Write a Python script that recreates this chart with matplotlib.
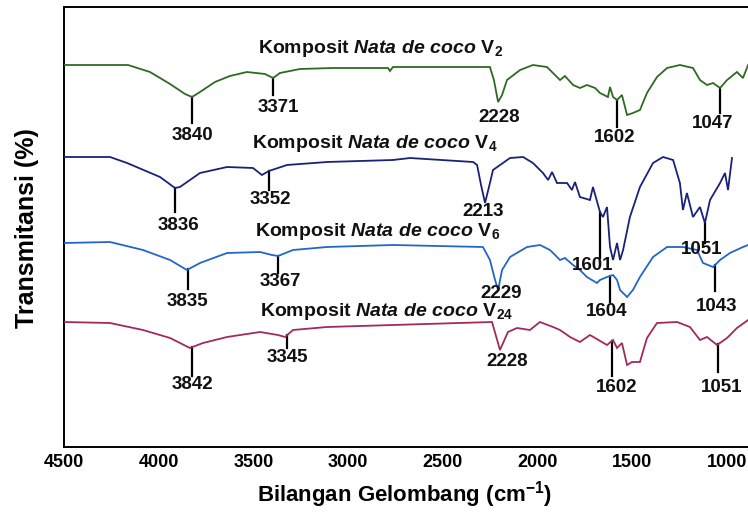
import numpy as np
import matplotlib
matplotlib.use("Agg")
import matplotlib.pyplot as plt

# FTIR spectra of Nata de coco composites.
# x: wavenumber (cm^-1), y: transmittance with stacking offset (arbitrary units)
WN_V2 = [4500, 4162, 4046, 3940, 3861, 3824, 3782, 3703, 3624, 3534,
         3439, 3396, 3360, 3254, 3080, 2789, 2779, 2763, 2673, 2251,
         2230, 2208, 2187, 2161, 2092, 2024, 1950, 1897, 1881, 1855,
         1812, 1776, 1739, 1696, 1670, 1628, 1617, 1601, 1580, 1554,
         1527, 1496, 1459, 1422, 1369, 1316, 1248, 1179, 1142, 1105,
         1073, 1036, 999, 947, 915, 888]
T_V2 = [382, 382, 375, 363, 353, 350, 355, 365, 371, 375,
        373, 369, 374, 378, 379, 379, 376, 380, 380, 380,
        367, 345, 352, 367, 377, 382, 380, 370, 367, 371,
        362, 359, 362, 359, 354, 350, 360, 350, 347, 352,
        332, 334, 337, 354, 370, 379, 382, 379, 367, 362,
        364, 359, 367, 375, 369, 382]

WN_V4 = [4500, 4257, 4167, 3993, 3914, 3888, 3782, 3639, 3502, 3455,
         3418, 3323, 3111, 2763, 2673, 2340, 2319, 2298, 2277, 2251,
         2235, 2145, 2076, 2024, 1971, 1944, 1923, 1897, 1844, 1818,
         1802, 1776, 1723, 1707, 1670, 1654, 1633, 1617, 1601, 1580,
         1564, 1548, 1512, 1459, 1390, 1337, 1284, 1248, 1232, 1211,
         1179, 1142, 1116, 1089, 1036, 1010, 994, 973]
T_V4 = [290, 290, 284, 270, 259, 260, 274, 280, 279, 272,
        276, 282, 285, 287, 289, 285, 282, 262, 244, 264,
        277, 289, 290, 284, 274, 267, 275, 264, 264, 257,
        265, 250, 247, 260, 235, 230, 240, 200, 187, 204,
        187, 197, 230, 260, 284, 290, 287, 264, 237, 254,
        230, 240, 224, 247, 264, 274, 257, 289]

WN_V6 = [4500, 4257, 4083, 3940, 3851, 3782, 3639, 3465, 3402, 3370,
         3291, 3111, 2763, 2288, 2251, 2224, 2208, 2187, 2145, 2055,
         1987, 1934, 1907, 1881, 1855, 1812, 1776, 1739, 1686, 1670,
         1633, 1601, 1580, 1564, 1527, 1496, 1459, 1390, 1316, 1232,
         1158, 1126, 1073, 1036, 984, 915, 888]
T_V6 = [204, 205, 197, 187, 177, 184, 194, 195, 192, 191,
        197, 200, 202, 200, 187, 167, 157, 177, 190, 200,
        202, 197, 192, 187, 189, 182, 177, 170, 164, 167,
        170, 172, 167, 157, 150, 157, 170, 190, 200, 200,
        197, 184, 180, 187, 194, 200, 202]

WN_V24 = [4500, 4257, 4083, 3940, 3835, 3766, 3639, 3465, 3370, 3333,
          3291, 3111, 2763, 2240, 2198, 2156, 2108, 2040, 1987, 1918,
          1881, 1828, 1776, 1723, 1633, 1601, 1580, 1554, 1527, 1501,
          1459, 1422, 1369, 1263, 1195, 1142, 1105, 1052, 999, 947, 888]
T_V24 = [125, 124, 117, 109, 99, 104, 110, 115, 112, 110,
         117, 120, 122, 125, 97, 115, 119, 117, 125, 120,
         117, 110, 105, 112, 102, 107, 99, 104, 82, 85,
         85, 109, 124, 125, 120, 107, 110, 102, 109, 119, 127]

SUBSCRIPTS = ["2", "4", "6", "24"]

# marked bands: position on the curve and the printed label
PEAK_WN_V2 = [3824, 3396, 2208, 1580, 1036]
PEAK_LBL_V2 = ["3840", "3371", "2228", "1602", "1047"]
PEAK_WN_V4 = [3914, 3418, 2277, 1670, 1116]
PEAK_LBL_V4 = ["3836", "3352", "2213", "1601", "1051"]
PEAK_WN_V6 = [3846, 3370, 2208, 1617, 1063]
PEAK_LBL_V6 = ["3835", "3367", "2229", "1604", "1043"]
PEAK_WN_V24 = [3824, 3323, 2198, 1607, 1047]
PEAK_LBL_V24 = ["3842", "3345", "2228", "1602", "1051"]

# --- layout / style ---------------------------------------------------------
COLORS = ["#2f6a22", "#1a2278", "#2267c8", "#a12a5e"]
# per marker: (tick length px, label dx px, label dy px below tick end)
MARK_LAYOUT = [
    [(26, 0, 12), (17, 5, 13), (0, 1, 15), (27, -2, 10), (25, -7, 11)],
    [(24, 3, 13), (19, 1, 10), (0, -2, 8), (46, -7, 7), (20, -3, 7)],
    [(20, 0, 12), (17, 2, 9), (0, 3, 4), (26, -3, 10), (26, 2, 15)],
    [(29, 0, 8), (13, 0, 9), (0, 7, 12), (35, 5, 12), (28, 4, 15)],
]
# series captions: left edge px, baseline px
CAPTION_POS = [(258, 53), (252, 148), (255, 236), (260, 316)]

W, H = 748, 512
FONT = "Liberation Sans"
plt.rcParams.update({
    "font.family": [FONT, "DejaVu Sans"],
    "font.weight": "bold",
    "mathtext.fontset": "custom",
    "mathtext.rm": f"{FONT}:bold",
    "mathtext.bf": f"{FONT}:bold",
    "mathtext.it": f"{FONT}:italic:bold",
})

fig = plt.figure(figsize=(W / 100, H / 100), dpi=100)
ax_left, ax_top, ax_bot = 64, 7, 447
ax = fig.add_axes([ax_left / W, 1 - ax_bot / H, 1 - ax_left / W,
                   (ax_bot - ax_top) / H])

spectra = [(WN_V2, T_V2), (WN_V4, T_V4), (WN_V6, T_V6), (WN_V24, T_V24)]
peaks = [(PEAK_WN_V2, PEAK_LBL_V2), (PEAK_WN_V4, PEAK_LBL_V4),
         (PEAK_WN_V6, PEAK_LBL_V6), (PEAK_WN_V24, PEAK_LBL_V24)]

for (wn, t), col in zip(spectra, COLORS):
    ax.plot(wn, t, color=col, lw=1.3, solid_joinstyle="miter", zorder=3)

for (wn, t), (pw, pl), lay in zip(spectra, peaks, MARK_LAYOUT):
    xs, ys = np.array(wn[::-1]), np.array(t[::-1])
    for p, lbl, (L, dx, dy) in zip(pw, pl, lay):
        y0 = np.interp(p, xs, ys)
        if L:
            ax.plot([p, p], [y0, y0 - L], color="black", lw=1.6, zorder=2)
        ax.annotate(lbl, (p, y0 - L), xytext=(dx, -dy),
                    textcoords="offset pixels", ha="center", va="center",
                    fontsize=13.5, fontweight="bold", color="#111111",
                    zorder=4)

for (x0, yb), sub in zip(CAPTION_POS, SUBSCRIPTS):
    fig.text(x0 / W, 1 - yb / H,
             r"Komposit $\mathit{Nata\ de\ coco}$ V$_{%s}$" % sub,
             ha="left", va="baseline", fontsize=14, fontweight="bold",
             color="#111111")

ax.set_xlim(4500, 4500 - (W - ax_left) * 5.28)
ax.set_ylim(0, ax_bot - ax_top)
ax.set_xticks([4500, 4000, 3500, 3000, 2500, 2000, 1500, 1000])
ax.set_yticks([])
ax.tick_params(axis="x", length=0, pad=5, labelsize=13)
for lab in ax.get_xticklabels():
    lab.set_fontweight("bold")
ax.spines["right"].set_visible(False)
for s in ("left", "bottom", "top"):
    ax.spines[s].set_linewidth(1.4)

fig.text(405 / W, 1 - 495 / H, r"Bilangan Gelombang (cm$^{-1}$)",
         ha="center", va="center", fontsize=16, fontweight="bold")
fig.text(27 / W, 1 - 228 / H, "Transmitansi (%)", rotation=90,
         ha="center", va="center", fontsize=18, fontweight="bold")

fig.savefig("out.png", dpi=100)
